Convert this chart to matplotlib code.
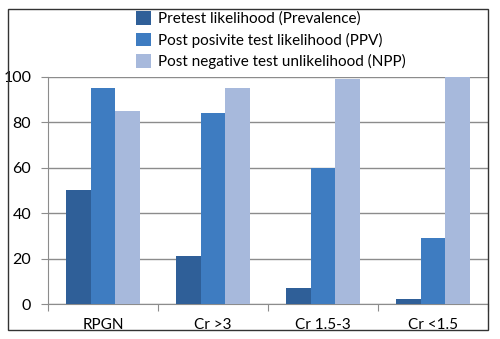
import numpy as np
import matplotlib
matplotlib.use("Agg")
import matplotlib.pyplot as plt
from matplotlib.patches import Rectangle

plt.rcParams['font.family'] = ['Lato', 'DejaVu Sans']

categories = ["RPGN", "Cr >3", "Cr 1.5-3", "Cr <1.5"]
series_names = ["Pretest likelihood (Prevalence)",
                "Post posivite test likelihood (PPV)",
                "Post negative test unlikelihood (NPP)"]
pretest = [50, 21, 7, 2]
ppv = [95, 84, 60, 29]
npp = [85, 95, 99, 100]
colors = ["#2F5F98", "#3E7CC1", "#A7B9DC"]

W, H = 500, 339
fig = plt.figure(figsize=(W / 100, H / 100), dpi=100)
ax = fig.add_axes([48 / W, 1 - 304 / H, 440 / W, (304 - 76.7) / H])

x = np.arange(len(categories))
bw = 0.223
for i, (vals, name, c) in enumerate(zip([pretest, ppv, npp], series_names, colors)):
    ax.bar(x + (i - 1) * bw, vals, bw, color=c, label=name, zorder=3)

ax.set_ylim(0, 100)
ax.set_xlim(-0.5, 3.43)
ax.set_yticks(range(0, 101, 20))
ax.yaxis.grid(True, color="#8C8C8C", linewidth=1.0, zorder=0)
ax.set_xticks(np.arange(len(categories) + 1) - 0.5)
ax.set_xticklabels([])
ax.set_xticks(x, minor=True)
ax.set_xticklabels(categories, minor=True)
ax.tick_params(axis="x", which="minor", length=0, pad=10, labelsize=11)
ax.tick_params(axis="x", which="major", length=5, color="#8C8C8C")
ax.tick_params(axis="y", length=5, color="#8C8C8C", labelsize=11.5, pad=7)
for s in ["top", "right"]:
    ax.spines[s].set_visible(False)
for s in ["left", "bottom"]:
    ax.spines[s].set_color("#8C8C8C")

fig.legend(loc="upper left", bbox_to_anchor=(130 / W, 1 - 5 / H), frameon=False,
           fontsize=11, handlelength=1.0, handleheight=1.0, labelspacing=0.42,
           handletextpad=0.45, borderaxespad=0)

fig.patches.append(Rectangle((8 / W, 1 - 330 / H), 480 / W, 321 / H,
                             transform=fig.transFigure, fill=False,
                             edgecolor="#333333", linewidth=1.0, zorder=10))

fig.savefig("out.png", dpi=100)
